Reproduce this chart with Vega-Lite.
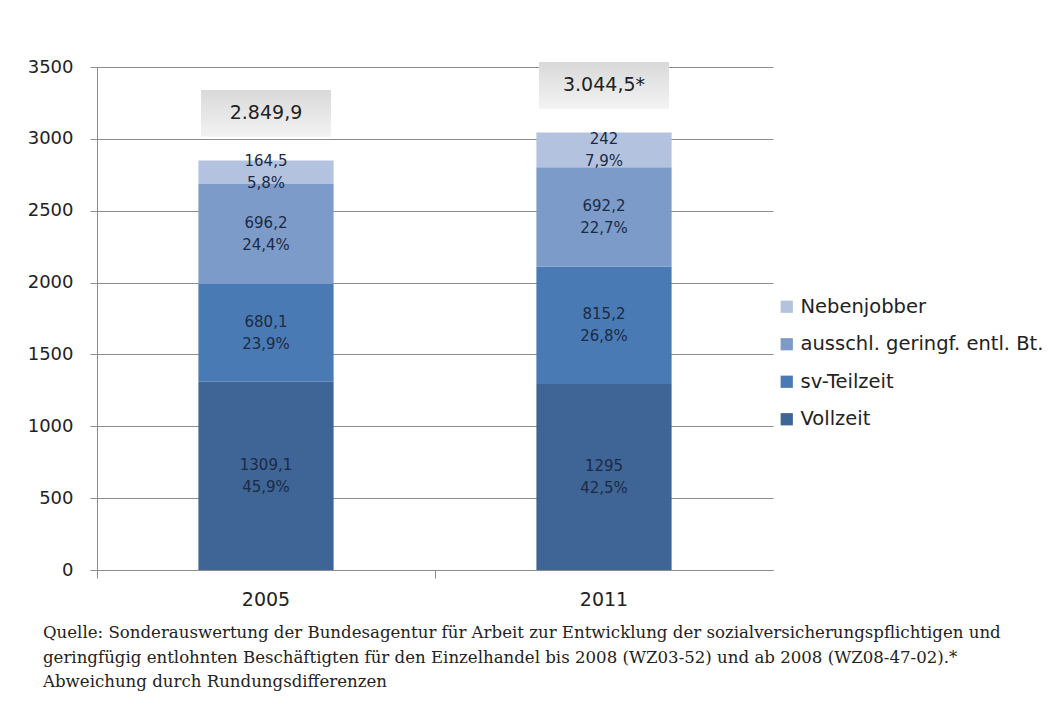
{
  "$schema": "https://vega.github.io/schema/vega-lite/v6.json",
  "autosize": {"type": "none"},
  "width": 676,
  "height": 503,
  "padding": {"left": 97, "top": 67, "right": 285, "bottom": 143},
  "background": "white",
  "config": {
    "view": {"stroke": null},
    "font": "DejaVu Sans"
  },
  "title": {
    "text": [
      "Quelle: Sonderauswertung der Bundesagentur für Arbeit zur Entwicklung der sozialversicherungspflichtigen und",
      "geringfügig entlohnten Beschäftigten für den Einzelhandel bis 2008 (WZ03-52) und ab 2008 (WZ08-47-02).*",
      "Abweichung durch Rundungsdifferenzen"
    ],
    "orient": "bottom",
    "anchor": "start",
    "frame": "group",
    "dx": -54,
    "offset": 16,
    "font": "DejaVu Serif",
    "fontSize": 16.6,
    "fontWeight": "normal",
    "lineHeight": 24.5,
    "color": "#222222"
  },
  "datasets": {
    "segments": [
      {"year": "2005", "category": "Vollzeit", "rank": 1, "value": 1309.1, "label": "1309,1", "pct": "45,9%"},
      {"year": "2005", "category": "sv-Teilzeit", "rank": 2, "value": 680.1, "label": "680,1", "pct": "23,9%"},
      {"year": "2005", "category": "ausschl. geringf. entl. Bt.", "rank": 3, "value": 696.2, "label": "696,2", "pct": "24,4%"},
      {"year": "2005", "category": "Nebenjobber", "rank": 4, "value": 164.5, "label": "164,5", "pct": "5,8%"},
      {"year": "2011", "category": "Vollzeit", "rank": 1, "value": 1295, "label": "1295", "pct": "42,5%"},
      {"year": "2011", "category": "sv-Teilzeit", "rank": 2, "value": 815.2, "label": "815,2", "pct": "26,8%"},
      {"year": "2011", "category": "ausschl. geringf. entl. Bt.", "rank": 3, "value": 692.2, "label": "692,2", "pct": "22,7%"},
      {"year": "2011", "category": "Nebenjobber", "rank": 4, "value": 242, "label": "242", "pct": "7,9%"}
    ],
    "totals": [
      {"year": "2005", "total": 2849.9, "total_label": "2.849,9"},
      {"year": "2011", "total": 3044.5, "total_label": "3.044,5*"}
    ]
  },
  "encoding": {
    "x": {
      "field": "year",
      "type": "nominal",
      "scale": {"paddingInner": 0.6, "paddingOuter": 0.3},
      "axis": {
        "title": null,
        "labelAngle": 0,
        "bandPosition": -0.75,
        "labelFontSize": 19,
        "labelColor": "#222222",
        "labelPadding": 12,
        "domainColor": "#8c8c8c",
        "tickColor": "#8c8c8c",
        "tickSize": 8,
        "grid": false
      }
    }
  },
  "layer": [
    {
      "data": {"name": "segments"},
      "transform": [
        {"stack": "value", "groupby": ["year"], "sort": [{"field": "rank", "order": "ascending"}], "as": ["y0", "y1"]}
      ],
      "mark": {"type": "bar"},
      "encoding": {
        "y": {
          "field": "y0",
          "type": "quantitative",
          "scale": {"domain": [0, 3500], "nice": false},
          "axis": {
            "title": null,
            "values": [0, 500, 1000, 1500, 2000, 2500, 3000, 3500],
            "format": "d",
            "grid": true,
            "gridColor": "#8c8c8c",
            "gridWidth": 1,
            "domainColor": "#8c8c8c",
            "tickColor": "#8c8c8c",
            "tickSize": 7,
            "labelPadding": 17,
            "labelFontSize": 18,
            "labelColor": "#222222"
          }
        },
        "y2": {"field": "y1"},
        "color": {
          "field": "category",
          "type": "nominal",
          "scale": {
            "domain": ["Nebenjobber", "ausschl. geringf. entl. Bt.", "sv-Teilzeit", "Vollzeit"],
            "range": ["#b3c3df", "#7c9bc8", "#4a7ab3", "#3e6595"]
          },
          "legend": {
            "title": null,
            "orient": "none",
            "legendX": 680,
            "legendY": 230,
            "symbolType": "square",
            "symbolSize": 150,
            "symbolStrokeWidth": 0,
            "labelFontSize": 19.5,
            "labelColor": "#222222",
            "labelOffset": 4,
            "rowPadding": 16.5,
            "labelLimit": 400
          }
        }
      }
    },
    {
      "data": {"name": "segments"},
      "transform": [
        {"stack": "value", "groupby": ["year"], "sort": [{"field": "rank", "order": "ascending"}], "as": ["y0", "y1"]},
        {"fold": ["y0", "y1"], "as": ["edge", "edgeValue"]},
        {"aggregate": [{"op": "mean", "field": "edgeValue", "as": "mid"}], "groupby": ["year", "category", "label", "pct"]}
      ],
      "layer": [
        {
          "mark": {"type": "text", "fontSize": 15, "color": "#1c2a45", "dy": -11, "baseline": "middle"},
          "encoding": {
            "y": {"field": "mid", "type": "quantitative"},
            "text": {"field": "label"}
          }
        },
        {
          "mark": {"type": "text", "fontSize": 15, "color": "#1c2a45", "dy": 11, "baseline": "middle"},
          "encoding": {
            "y": {"field": "mid", "type": "quantitative"},
            "text": {"field": "pct"}
          }
        }
      ]
    },
    {
      "data": {"name": "totals"},
      "mark": {
        "type": "point",
        "shape": "M-1,-0.36L1,-0.36L1,0.36L-1,0.36Z",
        "size": 16900,
        "filled": true,
        "opacity": 1,
        "strokeWidth": 0,
        "yOffset": -47,
        "fill": {
          "gradient": "linear",
          "x1": 0, "y1": 0, "x2": 0, "y2": 1,
          "stops": [
            {"offset": 0, "color": "#d9d9d9"},
            {"offset": 1, "color": "#f3f3f3"}
          ]
        }
      },
      "encoding": {
        "y": {"field": "total", "type": "quantitative"}
      }
    },
    {
      "data": {"name": "totals"},
      "mark": {"type": "text", "fontSize": 19, "color": "#222222", "yOffset": -47, "baseline": "middle"},
      "encoding": {
        "y": {"field": "total", "type": "quantitative"},
        "text": {"field": "total_label"}
      }
    }
  ]
}
